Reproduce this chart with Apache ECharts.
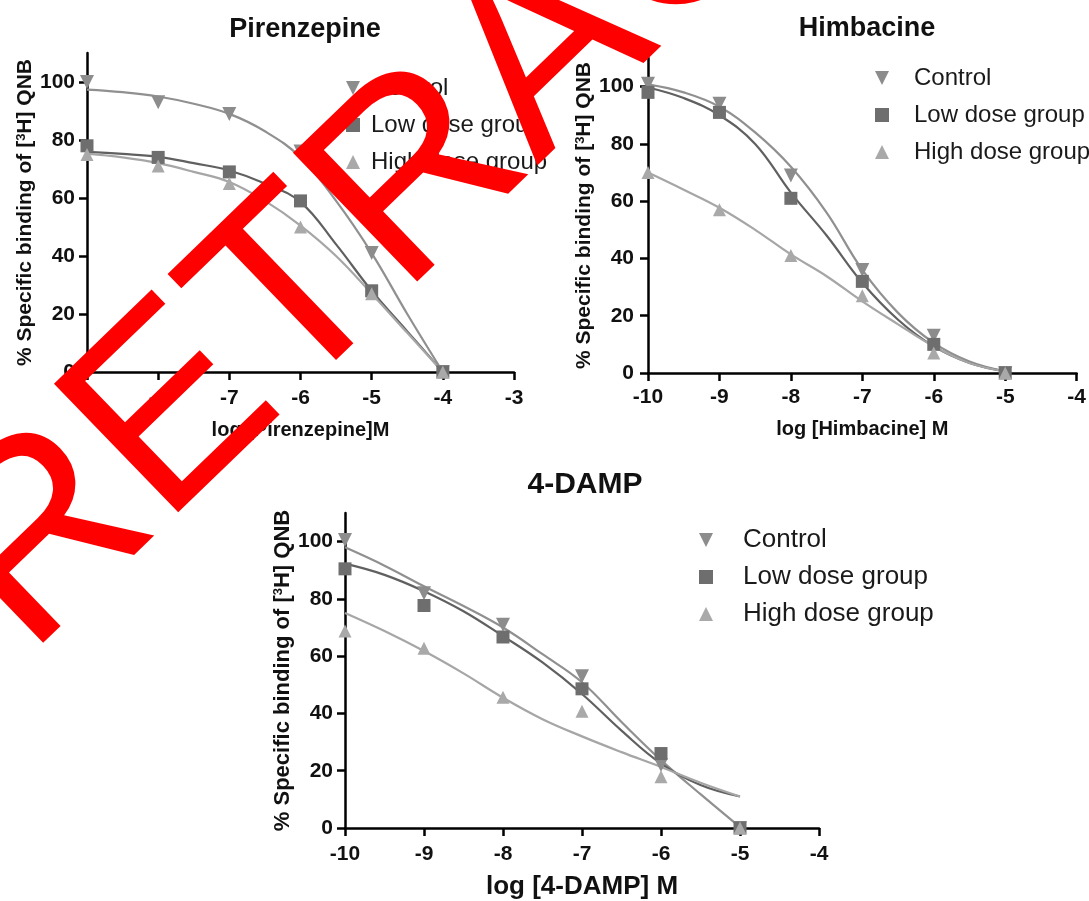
<!DOCTYPE html>
<html>
<head>
<meta charset="utf-8">
<script src="https://cdn.jsdelivr.net/npm/echarts@6/dist/echarts.min.js"></script>
<style>
  html, body { margin: 0; padding: 0; background: #fff; }
  #chart { width: 1089px; height: 901px; }
</style>
</head>
<body>
<div id="chart"></div>
<script>
// ---------------------------------------------------------------------------
// Data — log concentration vs % specific binding
// ---------------------------------------------------------------------------
const groupNames = ['Control', 'Low dose group', 'High dose group'];

// Pirenzepine
const pirX = [-9, -8, -7, -6, -5, -4];
const pirControl = [100, 93, 89, 76, 41, 0];
const pirLow = [78, 74, 69, 59, 28, 0];
const pirHigh = [75, 71, 65, 50, 27, 0];
const pirFitX = [-9, -8.5, -8, -7.5, -7, -6.5, -6, -5.5, -5, -4.5, -4];
const pirFitControl = [97.4, 96.5, 95, 92.5, 89, 83, 74, 59, 41, 20, 0];
const pirFitLow = [75.9, 75.2, 74.2, 72, 69.5, 65, 58.6, 44, 28, 14, 0];
const pirFitHigh = [75.3, 74, 72, 69, 65.5, 59, 50.5, 40, 27, 13.5, 0];

// Himbacine
const himX = [-10, -9, -8, -7, -6, -5];
const himControl = [101, 94, 69, 36, 13, 0];
const himLow = [98, 91, 61, 32, 10, 0];
const himHigh = [70, 57, 41, 27, 7, 0];
const himFitX = [-10, -9.5, -9, -8.5, -8, -7.5, -7, -6.5, -6, -5.5, -5];
const himFitControl = [100.8, 98, 93, 84, 72, 56, 36, 21, 10.5, 4, 0.6];
const himFitLow = [99.7, 96, 90, 80, 63, 48, 31.5, 18.6, 9.3, 3.5, 0.6];
const himFitHigh = [70, 64, 57.7, 50, 41.4, 33.8, 25, 17, 9.3, 3.5, 0.6];

// 4-DAMP
const dampX = [-10, -9, -8, -7, -6, -5];
const dampControl = [100.6, 82, 71, 53, 22, 0];
const dampLow = [90.5, 77.7, 66.7, 48.6, 26, 0];
const dampHigh = [68.8, 62.8, 45.7, 40.8, 17.9, 0];
const dampFitX = [-10, -9.5, -9, -8.5, -8, -7.5, -7, -6.5, -6, -5.5, -5];
const dampFitControl = [98, 91.6, 84.4, 77.5, 70, 60.7, 50.9, 37, 23.7, 11.8, 0.3];
const dampFitLow = [92.3, 88.4, 82.7, 75.7, 67, 57.8, 46.8, 34, 22.5, 15, 11];
const dampFitHigh = [75.1, 68.8, 61.8, 54, 45.5, 38, 32, 26.5, 21.3, 15.8, 11];

const yTicks = [0, 20, 40, 60, 80, 100];

// ---------------------------------------------------------------------------
// Styling
// ---------------------------------------------------------------------------
const FONT = '"Liberation Sans", Arial, Helvetica, sans-serif';
const INK = '#111';
const DOWN_TRIANGLE = 'path://M0,0L10,0L5,10Z';
const MARK = {
  Control: { color: '#8c8c8c', line: '#909090', symbol: 'triangle', rotate: 180, size: 14, icon: DOWN_TRIANGLE },
  'Low dose group': { color: '#6e6e6e', line: '#606060', symbol: 'rect', rotate: 0, size: 13, icon: 'rect' },
  'High dose group': { color: '#a9a9a9', line: '#a6a6a6', symbol: 'triangle', rotate: 0, size: 13, icon: 'triangle' },
};

const zip = (xs, ys) => xs.map((x, i) => [x, ys[i]]);

const option = {
  animation: false,
  backgroundColor: '#fff',
  title: [], grid: [], xAxis: [], yAxis: [], legend: [], series: [],
  graphic: [],
};

function addPanel(p) {
  const i = option.grid.length;
  option.title.push({
    text: p.title, left: p.titleX, top: p.titleY, textAlign: 'center',
    textStyle: { fontFamily: FONT, fontWeight: 'bold', fontSize: p.titleSize, color: INK },
  });
  option.grid.push({ left: p.grid[0], top: p.grid[1], width: p.grid[2], height: p.grid[3] });
  option.xAxis.push({
    gridIndex: i, type: 'value', min: p.xMin, max: p.xMax, interval: 1,
    name: p.xName, nameLocation: 'middle', nameGap: p.xNameGap,
    nameTextStyle: { fontFamily: FONT, fontWeight: 'bold', fontSize: p.nameSize, color: INK },
    axisLine: { onZero: false, lineStyle: { color: '#000', width: 2.5 } },
    axisTick: { length: 8, lineStyle: { color: '#000', width: 2.5 } },
    axisLabel: { margin: p.xLabelMargin, fontFamily: FONT, fontWeight: 'bold', fontSize: p.tickSize, color: INK },
    splitLine: { show: false },
  });
  option.yAxis.push({
    gridIndex: i, type: 'value', min: 0, max: 110,
    name: '% Specific binding of [{sup|3}H] QNB', nameLocation: 'middle', nameGap: p.yNameGap,
    nameTextStyle: {
      fontFamily: FONT, fontWeight: 'bold', fontSize: p.yNameSize, color: INK,
      rich: { sup: { fontFamily: FONT, fontWeight: 'bold', fontSize: 13, color: INK, verticalAlign: 'top' } },
    },
    axisLine: { onZero: false, lineStyle: { color: '#000', width: 2.5 } },
    axisTick: { length: 8, customValues: yTicks, lineStyle: { color: '#000', width: 2.5 } },
    axisLabel: { margin: p.yLabelMargin, customValues: yTicks, fontFamily: FONT, fontWeight: 'bold', fontSize: p.tickSize, color: INK },
    splitLine: { show: false },
  });
  // legend: small square icon box, text pushed right with padding
  option.legend.push({
    orient: 'vertical', left: p.legend[0], top: p.legend[1], padding: 0,
    itemWidth: 14, itemHeight: 14, itemGap: 37 - 26, symbolKeepAspect: true,
    data: groupNames.map((g) => ({ name: g, icon: MARK[g].icon })),
    selectedMode: false,
    textStyle: {
      fontFamily: FONT, fontSize: p.legendSize, lineHeight: 26, color: '#1a1a1a',
      padding: [0, 0, 0, p.legendPad],
    },
  });
  groupNames.forEach((g, k) => {
    const m = MARK[g];
    option.series.push({
      name: g + ' fit', type: 'line', xAxisIndex: i, yAxisIndex: i,
      data: zip(p.fitX, p.fits[k]), smooth: 0.4, showSymbol: false, silent: true,
      lineStyle: { color: m.line, width: 2.2 }, z: 2,
    });
  });
  groupNames.forEach((g, k) => {
    const m = MARK[g];
    option.series.push({
      name: g, type: 'scatter', xAxisIndex: i, yAxisIndex: i,
      data: zip(p.x, p.points[k]), symbol: m.symbol, symbolRotate: m.rotate, symbolSize: m.size,
      itemStyle: { color: m.color, opacity: 1 }, z: 3,
    });
  });
}

addPanel({
  title: 'Pirenzepine', titleX: 300, titleY: 11, titleSize: 27,
  grid: [87, 53, 427, 319], xMin: -9, xMax: -3,
  xName: 'log [Pirenzepine]M', xNameGap: 48, nameSize: 20, xLabelMargin: 16,
  yNameGap: 50, yNameSize: 21, yLabelMargin: 12, tickSize: 21,
  legend: [346, 75], legendPad: 6, legendSize: 24,
  x: pirX, points: [pirControl, pirLow, pirHigh],
  fitX: pirFitX, fits: [pirFitControl, pirFitLow, pirFitHigh],
});

addPanel({
  title: 'Himbacine', titleX: 862, titleY: 10, titleSize: 27,
  grid: [648, 58, 430, 315], xMin: -10, xMax: -4,
  xName: 'log [Himbacine] M', xNameGap: 46, nameSize: 20, xLabelMargin: 14,
  yNameGap: 52, yNameSize: 21, yLabelMargin: 14, tickSize: 21,
  legend: [875, 65], legendPad: 20, legendSize: 24,
  x: himX, points: [himControl, himLow, himHigh],
  fitX: himFitX, fits: [himFitControl, himFitLow, himFitHigh],
});

addPanel({
  title: '4-DAMP', titleX: 580, titleY: 465, titleSize: 30,
  grid: [345, 513, 474, 317], xMin: -10, xMax: -4,
  xName: 'log [4-DAMP] M', xNameGap: 46, nameSize: 26, xLabelMargin: 16,
  yNameGap: 51, yNameSize: 22, yLabelMargin: 12, tickSize: 21,
  legend: [699, 527], legendPad: 25, legendSize: 26,
  x: dampX, points: [dampControl, dampLow, dampHigh],
  fitX: dampFitX, fits: [dampFitControl, dampFitLow, dampFitHigh],
});

// Retraction watermark across the figure (rotated ~44°, bottom-left to top-right)
const WM_ANGLE = 44 * Math.PI / 180;
option.graphic.push({
  type: 'text', x: -22, y: 606, rotation: WM_ANGLE, z: 100, silent: true,
  style: {
    text: 'RETRACTED', fill: '#ff0000',
    font: '260px ' + FONT, align: 'left', verticalAlign: 'middle',
  },
});

const chart = echarts.init(document.getElementById('chart'), null, { renderer: 'canvas' });
chart.setOption(option);
</script>
</body>
</html>
